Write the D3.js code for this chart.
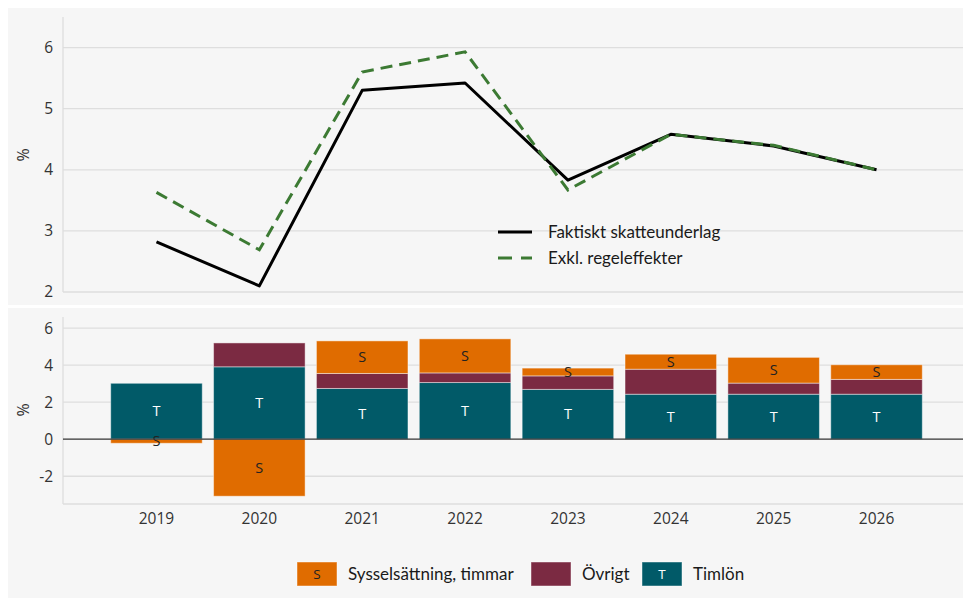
<!DOCTYPE html>
<html>
<head>
<meta charset="utf-8">
<script src="https://cdn.jsdelivr.net/npm/d3@7"></script>
<style>
  body { margin: 0; background: #fff; }
  svg { display: block; }
  .tick text { font-family: "Open Sans", sans-serif; font-size: 15.5px; fill: #333; }
  .legend text { font-family: Lato, sans-serif; font-size: 17px; fill: #1a1a1a; }
</style>
</head>
<body>
<div id="chart"></div>
<script>
// Data
const years = ["2019", "2020", "2021", "2022", "2023", "2024", "2025", "2026"];
const faktiskt = [2.82, 2.10, 5.30, 5.42, 3.83, 4.58, 4.39, 4.00];
const exklRegel = [3.63, 2.69, 5.60, 5.93, 3.67, 4.58, 4.40, 4.00];
const timlon = [3.02, 3.91, 2.74, 3.06, 2.69, 2.43, 2.43, 2.43];
const ovrigt = [0.00, 1.29, 0.81, 0.52, 0.73, 1.35, 0.60, 0.80];
const syssel = [-0.22, -3.08, 1.76, 1.84, 0.42, 0.81, 1.39, 0.79];
const topTicks = [2, 3, 4, 5, 6];
const bottomTicks = [-2, 0, 2, 4, 6];

const W = 963, H = 598;
const left = 63, right = 963;
const colors = { T: "#015a68", O: "#7b2a42", S: "#e06c00" };
const fmt = d => String(d); // plain hyphen minus, no decimals

const svg = d3.select("#chart").append("svg").attr("width", W).attr("height", H);

// panel backgrounds
svg.append("rect").attr("x", 8).attr("y", 8).attr("width", W - 8).attr("height", 297).attr("fill", "#f6f6f6");
svg.append("rect").attr("x", 8).attr("y", 308).attr("width", W - 8).attr("height", 290).attr("fill", "#f6f6f6");

const x = d3.scaleBand().domain(years).range([110.7, 922.3]).paddingInner(0.11);

// ---------- top panel: lines ----------
const yTop = d3.scaleLinear().domain([2, 6.5]).range([292, 17]);

svg.append("g").selectAll("line").data(topTicks).join("line")
  .attr("x1", left).attr("x2", right)
  .attr("y1", d => yTop(d)).attr("y2", d => yTop(d))
  .attr("stroke", "#dedede").attr("stroke-width", 1.3);

svg.append("line").attr("x1", left).attr("x2", left).attr("y1", 17).attr("y2", 292)
  .attr("stroke", "#dedede").attr("stroke-width", 1.3);

svg.append("g").attr("transform", `translate(${left},0)`)
  .call(d3.axisLeft(yTop).tickValues(topTicks).tickFormat(fmt).tickSize(0).tickPadding(10))
  .call(g => g.select(".domain").remove());

svg.append("text").attr("transform", "translate(29,155) rotate(-90)")
  .attr("text-anchor", "middle").attr("font-family", "Open Sans, sans-serif")
  .attr("font-size", 16).attr("fill", "#333").text("%");

const line = d3.line().x((d, i) => x(years[i]) + x.bandwidth() / 2).y(d => yTop(d));

svg.append("path").datum(faktiskt).attr("d", line)
  .attr("fill", "none").attr("stroke", "#000").attr("stroke-width", 3).attr("stroke-linejoin", "round");
svg.append("path").datum(exklRegel).attr("d", line)
  .attr("fill", "none").attr("stroke", "#3c7a33").attr("stroke-width", 3)
  .attr("stroke-dasharray", "12,7");

// top legend
const legTop = svg.append("g").attr("class", "legend");
legTop.append("line").attr("x1", 498).attr("x2", 532).attr("y1", 232).attr("y2", 232)
  .attr("stroke", "#000").attr("stroke-width", 3);
legTop.append("text").attr("x", 548).attr("y", 232).attr("dy", "0.35em").text("Faktiskt skatteunderlag");
legTop.append("line").attr("x1", 498).attr("x2", 532).attr("y1", 258).attr("y2", 258)
  .attr("stroke", "#3c7a33").attr("stroke-width", 3).attr("stroke-dasharray", "14,9");
legTop.append("text").attr("x", 548).attr("y", 258).attr("dy", "0.35em").text("Exkl. regeleffekter");

// ---------- bottom panel: stacked bars ----------
const yBot = d3.scaleLinear().domain([-3.5, 6.6]).range([504, 317]);

svg.append("g").selectAll("line").data(bottomTicks.filter(d => d !== 0)).join("line")
  .attr("x1", left).attr("x2", right)
  .attr("y1", d => yBot(d)).attr("y2", d => yBot(d))
  .attr("stroke", "#dedede").attr("stroke-width", 1.3);
svg.append("line").attr("x1", left).attr("x2", right).attr("y1", yBot(-3.5)).attr("y2", yBot(-3.5))
  .attr("stroke", "#dedede").attr("stroke-width", 1.3);
svg.append("line").attr("x1", left).attr("x2", left).attr("y1", 317).attr("y2", 504)
  .attr("stroke", "#dedede").attr("stroke-width", 1.3);

svg.append("g").attr("transform", `translate(${left},0)`)
  .call(d3.axisLeft(yBot).tickValues(bottomTicks).tickFormat(fmt).tickSize(0).tickPadding(10))
  .call(g => g.select(".domain").remove());

svg.append("g").attr("transform", `translate(0,504)`)
  .call(d3.axisBottom(x).tickSize(0).tickPadding(9))
  .call(g => g.select(".domain").remove());

svg.append("text").attr("transform", "translate(29,410) rotate(-90)")
  .attr("text-anchor", "middle").attr("font-family", "Open Sans, sans-serif")
  .attr("font-size", 16).attr("fill", "#333").text("%");

const table = years.map((y, i) => ({ year: y, T: timlon[i], O: ovrigt[i], S: syssel[i] }));
const series = d3.stack().keys(["T", "O", "S"]).offset(d3.stackOffsetDiverging)(table);

const bars = svg.append("g");
series.forEach(s => {
  const g = bars.append("g");
  g.selectAll("rect").data(s.filter(d => d[1] !== d[0])).join("rect")
    .attr("x", d => x(d.data.year))
    .attr("width", x.bandwidth())
    .attr("y", d => yBot(Math.max(d[0], d[1])))
    .attr("height", d => Math.abs(yBot(d[0]) - yBot(d[1])))
    .attr("fill", colors[s.key])
    .attr("stroke", "rgba(255,255,255,0.45)").attr("stroke-width", 1);
  if (s.key !== "O") {
    g.selectAll("text").data(s).join("text")
      .attr("x", d => x(d.data.year) + x.bandwidth() / 2)
      .attr("y", d => yBot((d[0] + d[1]) / 2))
      .attr("dy", "0.35em").attr("text-anchor", "middle")
      .attr("font-family", "Open Sans, sans-serif").attr("font-size", 14.5)
      .attr("fill", s.key === "T" ? "#fff" : "#222")
      .text(s.key);
  }
});

svg.append("line").attr("x1", left).attr("x2", right).attr("y1", yBot(0)).attr("y2", yBot(0))
  .attr("stroke", "#333").attr("stroke-width", 1.3);

// bottom legend
const legItems = [
  { key: "S", label: "Sysselsättning, timmar", x: 297 },
  { key: "O", label: "Övrigt", x: 531 },
  { key: "T", label: "Timlön", x: 642 }
];
const legBot = svg.append("g").attr("class", "legend");
const li = legBot.selectAll("g").data(legItems).join("g")
  .attr("transform", d => `translate(${d.x},562)`);
li.append("rect").attr("width", 40).attr("height", 24).attr("fill", d => colors[d.key])
  .attr("stroke", "rgba(255,255,255,0.45)");
li.filter(d => d.key !== "O").append("text")
  .attr("x", 20).attr("y", 12).attr("dy", "0.35em").attr("text-anchor", "middle")
  .style("font-family", "Open Sans, sans-serif").style("font-size", "13.5px")
  .style("fill", d => d.key === "T" ? "#fff" : "#222").text(d => d.key);
li.append("text").attr("x", 51).attr("y", 12).attr("dy", "0.35em").text(d => d.label);
</script>
</body>
</html>
